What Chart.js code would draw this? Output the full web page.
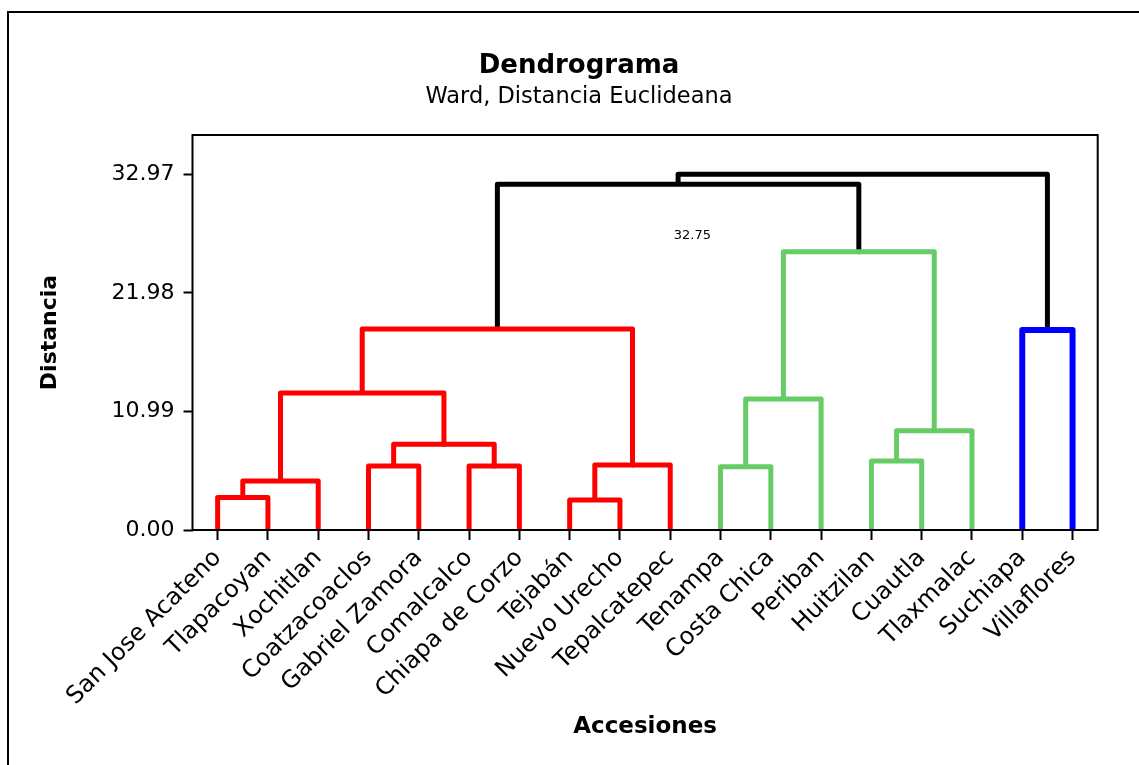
<!DOCTYPE html>
<html>
<head>
<meta charset="utf-8">
<title>Dendrograma</title>
<script src="https://cdn.jsdelivr.net/npm/chart.js@4.4.1/dist/chart.umd.min.js"></script>
<style>
  html, body { margin: 0; padding: 0; background: #fff; overflow: hidden; }
  #wrap { position: relative; width: 1139px; height: 765px; }
</style>
</head>
<body>
<div id="wrap"><canvas id="c" width="1139" height="765"></canvas></div>
<script>
// Leaves of the dendrogram, in drawing order
const accessions = [
  'San Jose Acateno', 'Tlapacoyan', 'Xochitlan', 'Coatzacoaclos', 'Gabriel Zamora',
  'Comalcalco', 'Chiapa de Corzo', 'Tejabán', 'Nuevo Urecho', 'Tepalcatepec',
  'Tenampa', 'Costa Chica', 'Periban', 'Huitzilan', 'Cuautla', 'Tlaxmalac',
  'Suchiapa', 'Villaflores'
];

// Distance tick labels
const yTickValues = [0, 10.99, 21.98, 32.97];

// Ward linkage: leaves are 0..17, merge k creates node 18 + k
const mergeLeft   = [0, 18, 3, 5, 20, 19, 7, 24, 23, 10, 27, 13, 29, 28, 26, 16, 32];
const mergeRight  = [1,  2, 4, 6, 21, 22, 8,  9, 25, 11, 12, 14, 15, 30, 31, 17, 33];
const mergeHeight = [3.00, 4.54, 5.93, 5.93, 7.94, 12.70, 2.78, 6.02, 18.63,
                     5.87, 12.14, 6.40, 9.20, 25.79, 32.04, 18.54, 32.97];

// Cluster membership of each leaf (0 = red, 1 = green, 2 = blue)
const leafCluster = [0, 0, 0, 0, 0, 0, 0, 0, 0, 0, 1, 1, 1, 1, 1, 1, 2, 2];

// Free text note inside the plot
const noteText = '32.75';

const clusterColors = ['#FF0000', '#66CC66', '#0000FF'];
const linkColor = '#000000';

// Node positions: leaves at 1..n, merged nodes at the midpoint of their children
const nLeaves = accessions.length;
const nodeX = accessions.map((_, i) => i + 1);
const nodeY = accessions.map(() => 0);
const nodeCluster = leafCluster.slice();
const datasets = [];
mergeLeft.forEach((a, k) => {
  const b = mergeRight[k];
  const h = mergeHeight[k];
  const id = nLeaves + k;
  nodeX[id] = (nodeX[a] + nodeX[b]) / 2;
  nodeY[id] = h;
  nodeCluster[id] = nodeCluster[a] === nodeCluster[b] ? nodeCluster[a] : -1;
  const color = nodeCluster[id] >= 0 ? clusterColors[nodeCluster[id]] : linkColor;
  datasets.push({
    data: [
      { x: nodeX[a], y: nodeY[a] },
      { x: nodeX[a], y: h },
      { x: nodeX[b], y: h },
      { x: nodeX[b], y: nodeY[b] }
    ],
    showLine: true,
    borderColor: color,
    backgroundColor: color,
    borderWidth: nodeCluster[id] === 2 ? 6 : 5,
    borderJoinStyle: 'round',
    borderCapStyle: 'butt',
    pointRadius: 0,
    pointHoverRadius: 0,
    tension: 0,
    fill: false
  });
});

// Plot frame, outer page frame and the free note
const framePlugin = {
  id: 'frame',
  beforeDraw(chart) {
    const ctx = chart.ctx;
    ctx.save();
    ctx.fillStyle = '#fff';
    ctx.fillRect(0, 0, chart.width, chart.height);
    ctx.strokeStyle = '#000';
    ctx.lineWidth = 2;
    ctx.beginPath();
    ctx.moveTo(8, chart.height + 5);
    ctx.lineTo(8, 12);
    ctx.lineTo(chart.width + 5, 12);
    ctx.stroke();
    ctx.restore();
  },
  afterDatasetsDraw(chart) {
    const { ctx, chartArea } = chart;
    ctx.save();
    ctx.strokeStyle = '#000';
    ctx.lineWidth = 2;
    ctx.strokeRect(chartArea.left, chartArea.top, chartArea.right - chartArea.left, chartArea.bottom - chartArea.top);
    const o = chart.options.plugins.frame;
    ctx.fillStyle = '#000';
    ctx.font = '13px "DejaVu Sans"';
    ctx.textAlign = 'center';
    ctx.textBaseline = 'middle';
    ctx.fillText(noteText, chart.scales.x.getPixelForValue(o.noteX), chart.scales.y.getPixelForValue(o.noteY));
    ctx.restore();
  }
};

Chart.defaults.font.family = '"DejaVu Sans", Verdana, sans-serif';
Chart.defaults.color = '#000';

new Chart(document.getElementById('c'), {
  type: 'scatter',
  data: { datasets },
  options: {
    responsive: false,
    animation: false,
    devicePixelRatio: 1,
    events: [],
    layout: { padding: { left: 60.3, right: 41.3, top: 0, bottom: 0 } },
    plugins: {
      legend: { display: false },
      tooltip: { enabled: false },
      title: {
        display: true,
        text: 'Dendrograma',
        color: '#000',
        font: { size: 26, weight: 'bold' },
        padding: { top: 50.4, bottom: 0 }
      },
      subtitle: {
        display: true,
        text: 'Ward, Distancia Euclideana',
        color: '#000',
        font: { size: 22.5, weight: 'normal' },
        padding: { top: 1.9, bottom: 24.5 }
      },
      frame: { noteX: 10.44, noteY: 27.25 }
    },
    scales: {
      x: {
        type: 'linear',
        min: 0.5,
        max: 18.5,
        border: { display: false },
        grid: { drawOnChartArea: false, drawTicks: true, tickLength: 10, color: '#000', tickWidth: 2 },
        afterBuildTicks: (scale) => { scale.ticks = accessions.map((_, i) => ({ value: i + 1 })); },
        afterFit: (scale) => { scale.height = 235; },
        ticks: {
          autoSkip: false,
          minRotation: 45,
          maxRotation: 45,
          padding: 4,
          font: { size: 24 },
          color: '#000',
          callback: (v) => accessions[Math.round(v) - 1]
        },
        title: {
          display: true,
          text: 'Accesiones',
          color: '#000',
          font: { size: 23, weight: 'bold' },
          padding: { top: 0, bottom: 24.2 }
        }
      },
      y: {
        type: 'linear',
        min: 0,
        max: 36.6,
        border: { display: false },
        grid: { drawOnChartArea: false, drawTicks: true, tickLength: 9, color: '#000', tickWidth: 2 },
        afterBuildTicks: (scale) => { scale.ticks = yTickValues.map(v => ({ value: v })); },
        afterFit: (scale) => { scale.width = 132.2; },
        ticks: {
          padding: 9,
          font: { size: 22 },
          color: '#000',
          callback: (v) => Number(v).toFixed(2)
        },
        title: {
          display: true,
          text: 'Distancia',
          color: '#000',
          font: { size: 22, weight: 'bold' },
          padding: { top: -23.5, bottom: 0 }
        }
      }
    }
  },
  plugins: [framePlugin]
});
</script>
</body>
</html>
